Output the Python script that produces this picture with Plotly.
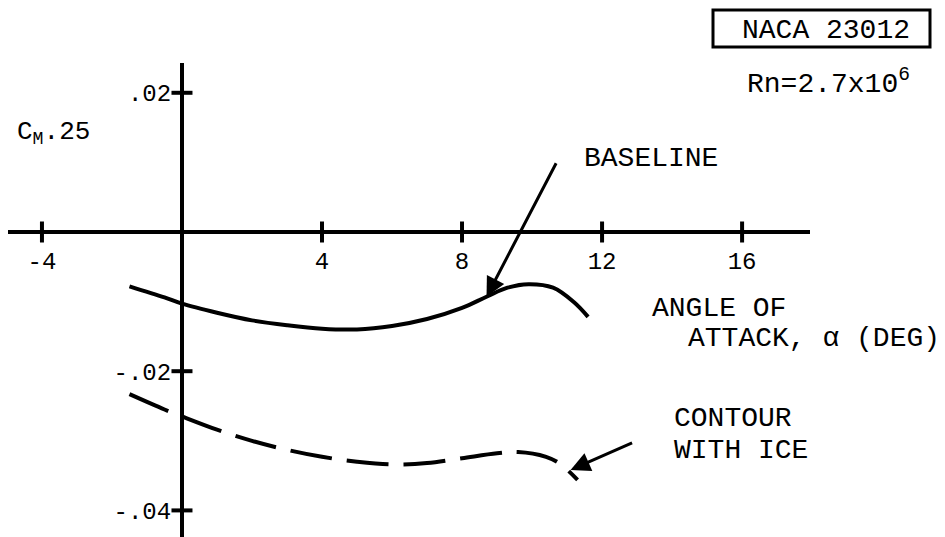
import plotly.graph_objects as go

# baseline airfoil, moment coefficient vs angle of attack
alpha_base = [-1.5, -0.5, 0, 1, 2, 3, 4, 5, 6, 7, 8, 8.7, 9.3, 9.9, 10.6, 11.2, 11.6]
cm_base = [-0.0078, -0.0094, -0.0103, -0.0116, -0.0127, -0.0134, -0.0139, -0.0140, -0.0135,
           -0.0125, -0.0109, -0.0093, -0.0080, -0.0075, -0.0080, -0.0101, -0.0122]

# contour with ice
alpha_ice = [-1.5, -0.5, 0, 1, 2, 3, 4, 5, 6, 7, 8, 9, 9.6, 10.4, 10.8, 11.3]
cm_ice = [-0.0233, -0.0255, -0.0265, -0.0284, -0.0300, -0.0313, -0.0323, -0.0330, -0.0334,
          -0.0332, -0.0325, -0.0318, -0.0316, -0.0323, -0.0333, -0.0356]

x_ticks = [-4, 4, 8, 12, 16]
x_tick_text = ["-4", "4", "8", "12", "16"]
y_ticks = [0.02, -0.02, -0.04]
y_tick_text = [".02", "-.02", "-.04"]

# page body has an 8px margin, so the figure is drawn 8px in
OFF = 8
W, H = 945 - OFF, 537 - OFF
ML, MR, MT, MB = 0, 135, 55, 0
xr = [-4.97, 17.94]
yr = [-0.04382, 0.02428]

FONT = "Liberation Mono"


def px(x):
    return (x - OFF - ML) / (W - ML - MR)


def py(y):
    return (H - MB - (y - OFF)) / (H - MT - MB)


fig = go.Figure()

fig.add_trace(go.Scatter(x=alpha_base, y=cm_base, mode="lines",
                         line=dict(color="black", width=4, shape="spline"), hoverinfo="skip"))
fig.add_trace(go.Scatter(x=alpha_ice, y=cm_ice, mode="lines",
                         line=dict(color="black", width=4, shape="spline", dash="42px,15px"),
                         hoverinfo="skip"))

# tick marks that cross the axes
fig.add_trace(go.Scatter(x=x_ticks, y=[0] * len(x_ticks), mode="markers", cliponaxis=False,
                         marker=dict(symbol="line-ns", size=15, line=dict(color="black", width=4)),
                         hoverinfo="skip"))
fig.add_trace(go.Scatter(x=[0] * len(y_ticks), y=y_ticks, mode="markers", cliponaxis=False,
                         marker=dict(symbol="line-ew", size=15, line=dict(color="black", width=4)),
                         hoverinfo="skip"))

tick_font = dict(family=FONT, size=24, color="black")
fig.update_layout(
    width=W, height=H,
    margin=dict(l=ML, r=MR, t=MT, b=MB),
    paper_bgcolor="white", plot_bgcolor="white",
    showlegend=False,
    xaxis=dict(range=xr, showgrid=False, zeroline=False, showline=True, linecolor="black",
               linewidth=4, anchor="free", position=(0 - yr[0]) / (yr[1] - yr[0]),
               tickvals=x_ticks, ticktext=x_tick_text, ticks="outside", ticklen=6,
               tickcolor="rgba(0,0,0,0)", tickfont=tick_font, automargin=False),
    yaxis=dict(range=yr, showgrid=False, zeroline=False, showline=True, linecolor="black",
               linewidth=4, anchor="free", position=(0 - xr[0]) / (xr[1] - xr[0]),
               tickvals=y_ticks, ticktext=y_tick_text, ticks="outside", ticklen=4,
               tickcolor="rgba(0,0,0,0)", tickfont=tick_font, automargin=False),
)


def text(s, x, y, anchor="left", size=28):
    fig.add_annotation(text=s, xref="paper", yref="paper", x=px(x), y=py(y),
                       xanchor=anchor, yanchor="middle", showarrow=False,
                       font=dict(family=FONT, size=size, color="black"))


text("BASELINE", 582, 158)
text("NACA 23012", 826, 30, anchor="center")
text("Rn=2.7x10<sup>6</sup>", 745, 82)
text("ANGLE OF", 650, 308)
text("ATTACK, α (DEG)", 686, 338)
text("CONTOUR", 672, 418)
text("WITH ICE", 672, 450)
text("C<sub>M</sub>.25", 15, 133, size=26)

fig.add_shape(type="rect", xref="paper", yref="paper", x0=px(713), x1=px(930),
              y0=py(47), y1=py(10), line=dict(color="black", width=3))

# pointer arrows
fig.add_annotation(x=8.7, y=-0.0093, ax=10.71, ay=0.0101, xref="x", yref="y",
                   axref="x", ayref="y", showarrow=True, arrowhead=2, arrowsize=1.3,
                   arrowwidth=3, arrowcolor="black", text="")
fig.add_annotation(x=11.1, y=-0.0342, ax=12.9, ay=-0.0302, xref="x", yref="y",
                   axref="x", ayref="y", showarrow=True, arrowhead=2, arrowsize=1.3,
                   arrowwidth=3, arrowcolor="black", text="")

fig.write_html("out.html")
